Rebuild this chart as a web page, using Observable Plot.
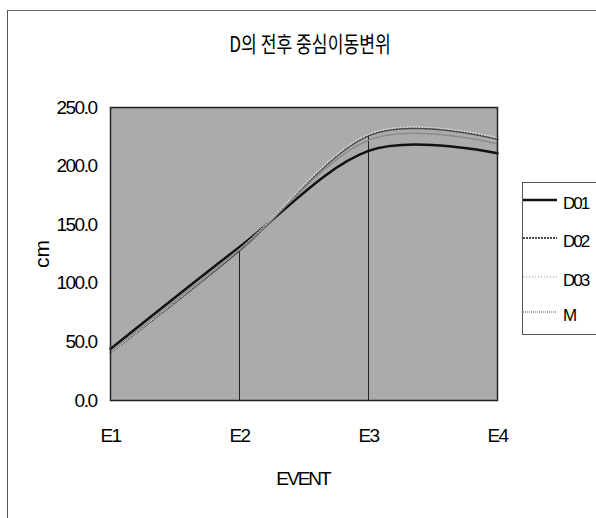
<!DOCTYPE html>
<html>
<head>
<meta charset="utf-8">
<script src="https://cdn.jsdelivr.net/npm/d3@7"></script>
<script src="https://cdn.jsdelivr.net/npm/@observablehq/plot@0.6"></script>
<style>
  html, body { margin: 0; padding: 0; background: #fff; }
  #wrap { position: relative; width: 596px; height: 518px; overflow: hidden; font-family: "Liberation Sans", Arial, sans-serif; color: #000; }
  #wrap svg { position: absolute; left: 0; top: 0; }
  #wrap svg text { letter-spacing: -1.5px; }
  .abs { position: absolute; white-space: nowrap; line-height: 1; }
  #border { position: absolute; left: 7px; top: 10px; width: 640px; height: 600px; border-left: 1px solid #555; border-top: 1px solid #666; }
  #title { left: 310px; top: 31px; font-family: "Noto Sans CJK KR", sans-serif; font-size: 22px; transform: translateX(-50%) scaleX(0.78); }
  #xlab { left: 303px; top: 469px; font-size: 19px; letter-spacing: -2px; transform: translateX(-50%); }
  #ylab { left: 41px; top: 254px; font-size: 21px; transform: translate(-50%, -50%) rotate(-90deg); }
  #legend { position: absolute; left: 522px; top: 182px; width: 120px; height: 151px; border: 1px solid #555; background: #fff; }
  .li { position: absolute; left: 0; width: 120px; height: 20px; }
  .li svg { position: absolute; left: 4px; top: 4px; }
  .li span { position: absolute; left: 40px; top: 1px; font-size: 17px; letter-spacing: -2px; line-height: 18px; }
</style>
</head>
<body>
<div id="wrap">
  <div id="border"></div>
  <div id="plot"></div>
  <div id="title" class="abs">D의 전후 중심이동변위</div>
  <div id="xlab" class="abs">EVENT</div>
  <div id="ylab" class="abs">cm</div>
  <div id="legend"></div>
</div>
<script>
// ---- data ----
const events = ["E1", "E2", "E3", "E4"];
const D01 = [44, 131, 213, 211];
const D02 = [41, 128, 226, 223];
const D03 = [41, 129, 227, 224];
const M   = [42, 129, 222, 219];
const seriesNames = ["D01", "D02", "D03", "M"];
const yTicks = [0, 50, 100, 150, 200, 250];

// ---- styles (kept apart from data) ----
const seriesStyle = {
  D01: {stroke: "#111", strokeWidth: 2.5, dash: null},
  D02: {stroke: "#4a4a4a", strokeWidth: 2, dash: "2,1"},
  D03: {stroke: "#d9d9d9", strokeWidth: 1.5, dash: "1,2"},
  M:   {stroke: "#8a8a8a", strokeWidth: 1.5, dash: "1,1"}
};

const seriesValues = {D01, D02, D03, M};
const rows = seriesNames.flatMap(s => events.map((e, i) => ({series: s, event: e, value: seriesValues[s][i]})));
const drops = events.map((e, i) => ({event: e, max: d3.max(seriesNames, s => seriesValues[s][i])}));

const chart = Plot.plot({
  width: 596,
  height: 518,
  marginLeft: 110,
  marginRight: 99,
  marginTop: 107,
  marginBottom: 118,
  style: {fontFamily: "'Liberation Sans', Arial, sans-serif", fontSize: "19px", color: "#000", background: "transparent", overflow: "visible"},
  x: {type: "point", domain: events, padding: 0},
  y: {domain: [0, 250]},
  marks: [
    Plot.frame({fill: "#ababab"}),
    Plot.ruleX(drops, {x: "event", y1: 0, y2: "max", stroke: "#222", strokeWidth: 1}),
    ...seriesNames.map(s => Plot.line(rows.filter(r => r.series === s), {
      x: "event", y: "value", curve: "cardinal",
      stroke: seriesStyle[s].stroke, strokeWidth: seriesStyle[s].strokeWidth,
      strokeDasharray: seriesStyle[s].dash
    })),
    Plot.frame({stroke: "#222", strokeWidth: 1.5}),
    Plot.axisX({tickSize: 0, tickPadding: 28, label: null, fontSize: 19}),
    Plot.axisY({ticks: yTicks, tickFormat: d => d.toFixed(1), tickSize: 0, tickPadding: 14, label: null, fontSize: 19})
  ]
});
document.getElementById("plot").appendChild(chart);

// ---- legend ----
const legend = document.getElementById("legend");
const legendTops = [11, 49, 88, 123];
seriesNames.forEach((s, i) => {
  const st = seriesStyle[s];
  const item = document.createElement("div");
  item.className = "li";
  item.style.top = legendTops[i] + "px";
  item.innerHTML = `<svg width="36" height="12"><line x1="0" x2="34" y1="6" y2="6" stroke="${st.stroke === "#d9d9d9" ? "#b8b8b8" : st.stroke}" stroke-width="${st.strokeWidth}" ${st.dash ? `stroke-dasharray="${st.dash}"` : ""}/></svg><span>${s}</span>`;
  legend.appendChild(item);
});
</script>
</body>
</html>
